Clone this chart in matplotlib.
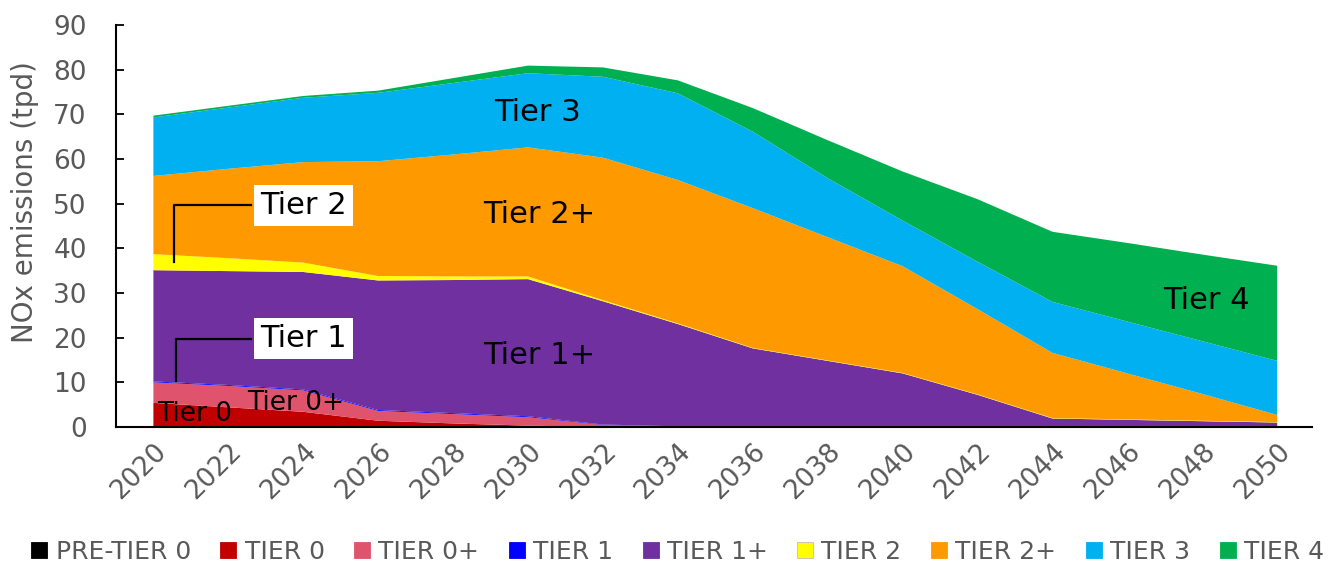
import matplotlib
matplotlib.use("Agg")
import matplotlib.pyplot as plt
from matplotlib.lines import Line2D
import numpy as np

plt.rcParams["font.family"] = ["DejaVu Sans"]

years = np.arange(2020, 2051, 2)
pre_tier0 = [0, 0, 0, 0, 0, 0, 0, 0, 0, 0, 0, 0, 0, 0, 0, 0]
tier0     = [5.4, 4.4, 3.4, 1.4, 0.8, 0.3, 0, 0, 0, 0, 0, 0, 0, 0, 0, 0]
tier0p    = [4.6, 4.8, 4.8, 2.2, 2.1, 1.9, 0.45, 0.1, 0, 0, 0, 0, 0, 0, 0, 0]
tier1     = [0.2, 0.2, 0.2, 0.2, 0.2, 0.2, 0.1, 0.05, 0, 0, 0, 0, 0, 0, 0, 0]
tier1p    = [24.9, 25.5, 26.3, 29.0, 29.8, 30.7, 27.6, 22.9, 17.6, 14.8, 12.0, 7.2, 1.9, 1.6, 1.3, 1.0]
tier2     = [3.6, 2.9, 2.1, 1.0, 0.8, 0.6, 0.25, 0.15, 0.1, 0.1, 0.1, 0.1, 0.1, 0.1, 0.1, 0.1]
tier2p    = [17.5, 20.0, 22.5, 25.7, 27.3, 28.9, 31.9, 32.1, 31.3, 27.6, 23.9, 19.1, 14.6, 10.3, 6.0, 1.6]
tier3     = [13.1, 13.7, 14.4, 15.3, 16.0, 16.6, 18.1, 19.4, 17.1, 13.2, 10.2, 10.6, 11.4, 11.6, 11.8, 12.1]
tier4     = [0.4, 0.4, 0.4, 0.5, 1.1, 1.7, 2.1, 2.9, 5.3, 8.5, 11.0, 14.0, 15.7, 17.6, 19.4, 21.3]

series = [pre_tier0, tier0, tier0p, tier1, tier1p, tier2, tier2p, tier3, tier4]
names = ["PRE-TIER 0", "TIER 0", "TIER 0+", "TIER 1", "TIER 1+",
         "TIER 2", "TIER 2+", "TIER 3", "TIER 4"]
colors = ["#000000", "#C00000", "#E0536D", "#0000FF", "#7030A0",
          "#FFFF00", "#FF9900", "#00B0F0", "#00B050"]

fig = plt.figure(figsize=(13.28, 5.66), dpi=100)
ax = fig.add_axes([0.0873, 0.2456, 0.9007, 0.7103])

ax.stackplot(years, *series, colors=colors, linewidth=0)

ax.set_xlim(2019.0, 2050.93)
ax.set_ylim(0, 90)
ax.set_yticks(np.arange(0, 91, 10))
ax.set_xticks(years)
ax.set_xticklabels([str(y) for y in years], rotation=45, ha="right",
                   rotation_mode="anchor", fontsize=19, color="#595959")
ax.tick_params(axis="y", direction="in", length=6, width=1.3, pad=21,
               labelsize=19, labelcolor="#595959")
ax.tick_params(axis="x", length=0, pad=8)
ax.set_ylabel("NOx emissions (tpd)", fontsize=20, color="#595959")
ax.yaxis.set_label_coords(-0.064, 0.56)
ax.spines[["top", "right"]].set_visible(False)
ax.spines["left"].set_linewidth(1.5)
ax.spines["bottom"].set_linewidth(1.5)

# in-chart labels
lbl = dict(fontsize=22, color="black", ha="center", va="center")
ax.text(2030.25, 70.3, "Tier 3", **lbl)
ax.text(2030.3, 47.5, "Tier 2+", **lbl)
ax.text(2030.3, 16.1, "Tier 1+", **lbl)
ax.text(2048.1, 28.4, "Tier 4", **lbl)
ax.text(2021.1, 2.8, "Tier 0", fontsize=19, ha="center", va="center")
ax.text(2023.8, 5.4, "Tier 0+", fontsize=19, ha="center", va="center")

box = dict(boxstyle="square,pad=0.2", facecolor="white", edgecolor="none")
ax.text(2024.0, 49.6, "Tier 2", bbox=box, **lbl)
ax.text(2024.0, 19.8, "Tier 1", bbox=box, **lbl)
ax.plot([2022.6, 2020.56, 2020.56], [49.7, 49.7, 36.9], color="black", lw=1.6)
ax.plot([2022.6, 2020.6, 2020.6], [19.7, 19.7, 10.3], color="black", lw=1.6)

handles = [Line2D([], [], marker="s", linestyle="none", markersize=11,
                  markerfacecolor=c, markeredgecolor="#BFBFBF" if c == "#FFFF00" else c,
                  markeredgewidth=0.6)
           for c in colors]
leg = fig.legend(handles, names, loc="center", bbox_to_anchor=(0.51, 0.025),
                 ncol=9, frameon=False, fontsize=18, handlelength=0.7,
                 handletextpad=0.3, columnspacing=1.15, borderaxespad=0)
for t in leg.get_texts():
    t.set_color("#595959")

fig.savefig("out.png", dpi=100)
